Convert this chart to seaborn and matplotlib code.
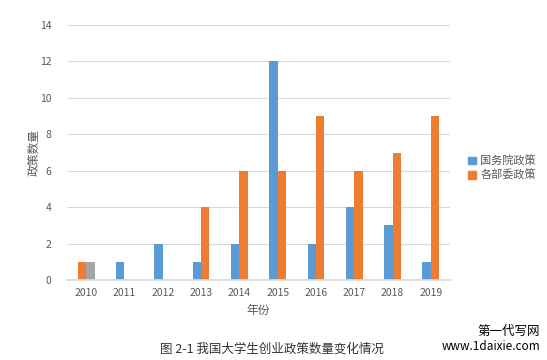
import matplotlib.pyplot as plt
import pandas as pd
import seaborn as sns

years = ["2010", "2011", "2012", "2013", "2014", "2015", "2016", "2017", "2018", "2019"]
state_council = [1, 1, 2, 1, 2, 12, 2, 4, 3, 1]
ministries = [1, 0, 0, 4, 6, 6, 9, 6, 7, 9]
series_names = ["国务院政策", "各部委政策"]
y_ticks = [0, 2, 4, 6, 8, 10, 12, 14]

df = pd.DataFrame({
    "year": years * 2,
    "count": state_council + ministries,
    "series": [series_names[0]] * len(years) + [series_names[1]] * len(years),
})

sns.set_theme(style="white")
plt.rcParams["font.family"] = ["Noto Sans CJK SC", "DejaVu Sans"]

blue, orange, gray = "#5B9BD5", "#ED7D31", "#A5A5A5"
text_color = "#595959"

fig = plt.figure(figsize=(5.47, 3.6), dpi=100)
ax = fig.add_axes([67 / 547, 80 / 360, 383 / 547, 255 / 360])

sns.barplot(
    data=df, x="year", y="count", hue="series", order=years,
    hue_order=series_names, palette=[blue, orange],
    width=0.44, gap=0, ax=ax, legend=False, saturation=1, linewidth=0,
)

# 2010 in the source is drawn orange + gray instead of blue + orange
first = ax.containers[0].patches[0]
second = ax.containers[1].patches[0]
first.set_facecolor(orange)
second.set_facecolor(gray)

ax.set_xlim(-0.5, len(years) - 0.5)
ax.set_ylim(0, 14)
ax.set_yticks(y_ticks)
ax.yaxis.grid(True, color="#D9D9D9", lw=0.8)
ax.set_axisbelow(True)
for side in ["left", "right", "top"]:
    ax.spines[side].set_visible(False)
ax.spines["bottom"].set_color("#D9D9D9")
ax.tick_params(axis="both", colors=text_color, labelsize=7.5, length=0)
ax.tick_params(axis="y", pad=11)
ax.tick_params(axis="x", pad=6)
ax.set_xlabel("年份", fontsize=8.5, color=text_color, labelpad=4)
ax.set_ylabel("政策数量", fontsize=8.5, color=text_color, labelpad=0)

handles = [plt.Rectangle((0, 0), 1, 1, color=blue), plt.Rectangle((0, 0), 1, 1, color=orange)]
fig.legend(
    handles, series_names, loc="center left", bbox_to_anchor=(458 / 547, 192 / 360),
    frameon=False, fontsize=8, handlelength=0.7, handleheight=0.7,
    handletextpad=0.4, labelspacing=0.3, labelcolor=text_color,
)

fig.text(272 / 547, 1 - 349 / 360, "图 2-1 我国大学生创业政策数量变化情况",
         ha="center", va="center", fontsize=9, color="#333333")
fig.text(540 / 547, 1 - 331 / 360, "第一代写网", ha="right", va="center", fontsize=9, color="black")
fig.text(540 / 547, 1 - 347 / 360, "www.1daixie.com", ha="right", va="center", fontsize=8.5, color="black")

fig.savefig("out.png", dpi=100)
